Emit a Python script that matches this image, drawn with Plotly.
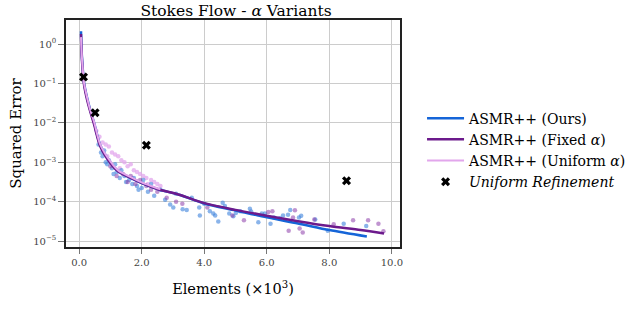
import plotly.graph_objects as go

# ---- data (x in units of 10^3 elements) ----
ours_line_x = [0.06, 0.07, 0.10, 0.16, 0.25, 0.35, 0.48, 0.67, 1.0, 1.25, 1.6, 2.0, 2.5, 3.2, 4.0, 5.0, 6.0, 7.0, 8.0, 9.2]
ours_line_y = [2.1, 1.0, 0.35, 0.1, 0.045, 0.022, 0.01, 0.0028, 0.001, 0.00059, 0.00042, 0.000295, 0.00021,
               0.00015, 0.00009, 0.00006, 0.00004, 0.000028, 0.000019, 0.000013]

fixed_line_x = [0.06, 0.07, 0.10, 0.16, 0.25, 0.35, 0.48, 0.67, 1.0, 1.25, 1.6, 2.0, 2.5, 3.2, 4.0, 5.0, 6.0, 7.0, 8.0, 9.0, 9.75]
fixed_line_y = [1.8, 0.9, 0.3, 0.09, 0.04, 0.02, 0.009, 0.0026, 0.00095, 0.00058, 0.00042, 0.0003, 0.00021,
                0.00015, 0.000092, 0.000062, 0.000044, 0.000032, 0.000024, 0.000019, 0.0000155]

unif_line_x = [0.06, 0.07, 0.10, 0.16, 0.25, 0.35, 0.48, 0.67, 1.0, 1.25, 1.6, 2.0, 2.3, 2.6]
unif_line_y = [1.5, 0.9, 0.34, 0.1, 0.046, 0.022, 0.0105, 0.0029, 0.00105, 0.00062, 0.00044, 0.00031, 0.00025, 0.000205]

# scatter samples: x and log10(error)
ours_pts_x = [0.62, 0.7, 0.75, 0.8, 0.85, 0.9, 0.95, 1.05, 1.1, 1.15, 1.2, 1.3, 1.35, 1.45, 1.5, 1.6, 1.7, 1.75,
              1.85, 1.9, 2.0, 2.05, 2.2, 2.3, 2.4, 2.6, 2.75, 2.91, 3.01, 3.1, 3.31, 3.44, 3.6, 3.84, 3.86, 4.0,
              4.18, 4.29, 4.35, 4.45, 4.59, 4.66, 4.8, 4.93, 5.01, 5.15, 5.46, 5.5, 5.73, 5.84, 5.94, 6.12, 6.23,
              6.42, 6.52, 6.68, 6.75, 7.03, 7.10, 7.55, 7.95, 8.46, 9.18]
ours_pts_logy = [-2.55, -2.75, -2.85, -2.7, -3.0, -3.05, -2.95, -3.15, -3.3, -3.05, -3.25, -3.4, -3.2, -3.35, -3.5,
                 -3.45, -3.55, -3.4, -3.6, -3.7, -3.65, -3.45, -3.75, -3.55, -3.85, -3.7, -3.95, -4.07, -4.15, -3.8,
                 -4.19, -4.21, -3.9, -4.15, -4.35, -4.05, -4.24, -4.30, -4.35, -4.5, -4.03, -4.11, -4.3, -4.37,
                 -4.29, -4.24, -4.18, -4.25, -4.52, -4.30, -4.3, -4.56, -4.4, -4.42, -4.35, -4.33, -4.21, -4.4,
                 -4.36, -4.45, -4.74, -4.56, -4.62]

fixed_pts_x = [1.0, 1.2, 1.4, 1.55, 1.65, 1.8, 1.95, 2.15, 2.3, 2.5, 2.8, 3.1, 3.3, 4.1, 4.9, 5.27, 6.05, 6.18,
               6.70, 6.84, 6.9, 7.05, 7.15, 7.52, 8.14, 8.76, 9.24, 9.57, 9.73]
fixed_pts_logy = [-3.1, -3.35, -3.3, -3.5, -3.35, -3.55, -3.45, -3.6, -3.7, -3.75, -3.9, -4.0, -4.05, -4.15,
                  -4.35, -4.47, -4.26, -4.24, -4.74, -4.4, -4.22, -4.68, -4.78, -4.45, -4.57, -4.47, -4.47,
                  -4.56, -4.75]

unif_pts_x = [0.55, 0.65, 0.75, 0.85, 0.95, 1.05, 1.15, 1.25, 1.35, 1.45, 1.55, 1.65, 1.75, 1.85, 1.95, 2.05,
              2.15, 2.3, 2.4, 2.5, 2.6, 0.9, 1.3, 1.7, 2.2]
unif_pts_logy = [-2.2, -2.35, -2.5, -2.55, -2.6, -2.75, -2.8, -2.85, -2.95, -3.0, -3.1, -3.05, -3.2, -3.25,
                 -3.3, -3.35, -3.4, -3.45, -3.5, -3.55, -3.6, -2.85, -3.15, -3.4, -3.55]

uniform_ref_x = [0.14, 0.51, 2.15, 8.55]
uniform_ref_y = [0.145, 0.018, 0.0027, 0.00034]

x_ticks = [0, 2, 4, 6, 8, 10]
x_tick_labels = ["0.0", "2.0", "4.0", "6.0", "8.0", "10.0"]
y_ticks = [1e-5, 1e-4, 1e-3, 1e-2, 1e-1, 1e0]
y_tick_labels = ["10<sup>−5</sup>", "10<sup>−4</sup>", "10<sup>−3</sup>", "10<sup>−2</sup>", "10<sup>−1</sup>", "10<sup>0</sup>"]

BLUE = "#1565d8"
PURPLE = "#6c1a8c"
PINK = "#e2a6ec"
SERIF = "DejaVu Serif, Liberation Serif, serif"

fig = go.Figure()

def pts(xs, logs):
    return xs, [10 ** v for v in logs]

for xs, ls, col in [(unif_pts_x, unif_pts_logy, "rgba(226,166,236,0.75)"),
                    (ours_pts_x, ours_pts_logy, "rgba(60,130,220,0.6)"),
                    (fixed_pts_x, fixed_pts_logy, "rgba(140,60,170,0.55)")]:
    px_, py_ = pts(xs, ls)
    fig.add_trace(go.Scatter(x=px_, y=py_, mode="markers", showlegend=False,
                             marker=dict(size=4.5, color=col, line=dict(width=0))))

fig.add_trace(go.Scatter(x=ours_line_x, y=ours_line_y, mode="lines", name="ASMR++ (Ours)",
                         line=dict(color=BLUE, width=2.5, shape="spline", smoothing=0.8)))
fig.add_trace(go.Scatter(x=fixed_line_x, y=fixed_line_y, mode="lines", name="ASMR++ (Fixed <i>α</i>)",
                         line=dict(color=PURPLE, width=2.5, shape="spline", smoothing=0.8)))
fig.add_trace(go.Scatter(x=unif_line_x, y=unif_line_y, mode="lines", name="ASMR++ (Uniform <i>α</i>)",
                         line=dict(color=PINK, width=2, shape="spline", smoothing=0.8)))
fig.add_trace(go.Scatter(x=uniform_ref_x, y=uniform_ref_y, mode="markers", name="<i>Uniform Refinement</i>",
                         marker=dict(symbol="x", size=8, color="black", line=dict(width=0))))

fig.update_layout(
    width=640, height=313,
    margin=dict(l=66, r=240, t=20, b=66, autoexpand=False),
    paper_bgcolor="white", plot_bgcolor="white",
    font=dict(family=SERIF, color="black"),
    title=dict(text="Stokes Flow - <i>α</i> Variants", x=236 / 640, xanchor="center",
               y=1 - 11 / 313, yanchor="middle", font=dict(size=15.5, family=SERIF)),
    legend=dict(x=1.066, xanchor="left", y=0.427, yanchor="middle", itemwidth=37,
                font=dict(size=14, family=SERIF), bgcolor="rgba(0,0,0,0)"),
    showlegend=True,
)
fig.update_xaxes(range=[-0.42, 10.26], tickvals=x_ticks, ticktext=x_tick_labels,
                 showgrid=True, gridcolor="#cccccc", gridwidth=1.2, zeroline=False,
                 showline=True, linecolor="#222", linewidth=1.5, mirror=True,
                 ticks="outside", ticklen=5, tickcolor="#777", automargin=False,
                 tickfont=dict(size=10, family=SERIF, color="#444"),
                 title=dict(text="Elements (×10<sup>3</sup>)", font=dict(size=14.5, family=SERIF), standoff=17))
fig.update_yaxes(type="log", range=[-5.15, 0.61], tickvals=y_ticks, ticktext=y_tick_labels,
                 showgrid=True, gridcolor="#cccccc", gridwidth=1.2, zeroline=False,
                 showline=True, linecolor="#222", linewidth=1.5, mirror=True,
                 ticks="outside", ticklen=6, tickcolor="#777", automargin=False,
                 tickfont=dict(size=10, family=SERIF, color="#444"),
                 title=dict(text="Squared Error", font=dict(size=15, family=SERIF), standoff=8))

fig.write_html("out.html", config={"displayModeBar": False},
               post_script="document.body.style.margin='0';")
